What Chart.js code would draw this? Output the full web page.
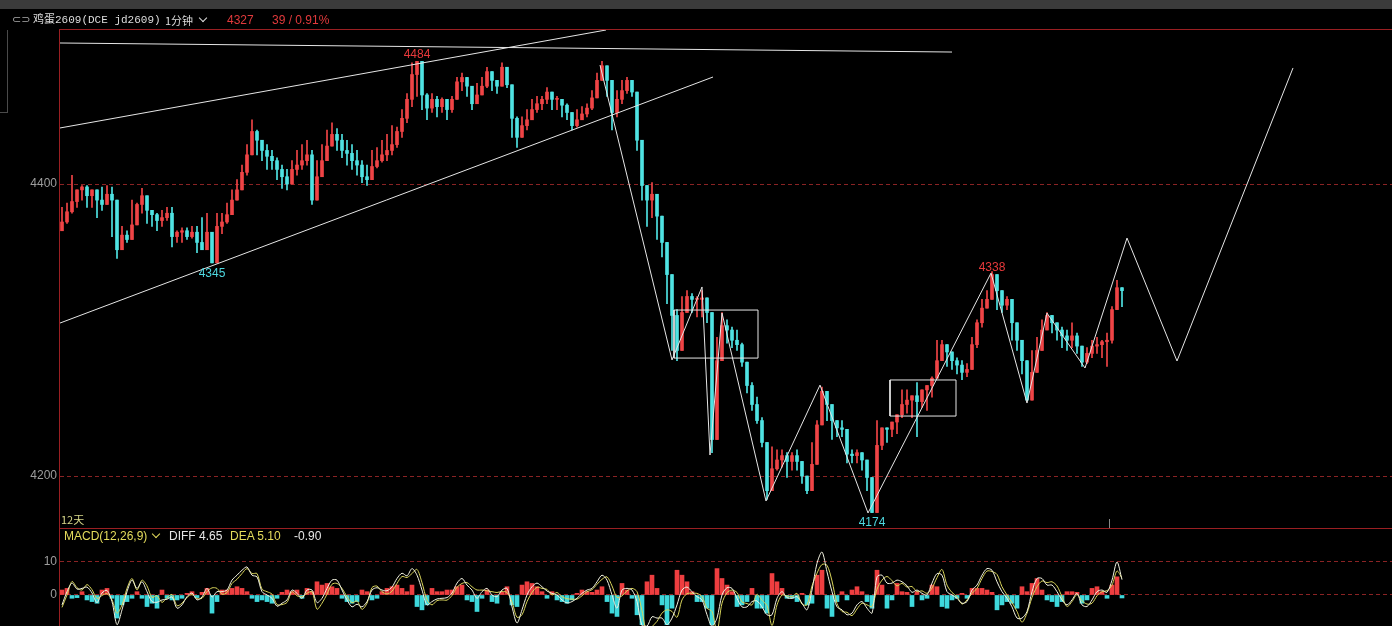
<!DOCTYPE html>
<html>
<head>
<meta charset="utf-8">
<script src="https://cdn.jsdelivr.net/npm/chart.js@4.4.1/dist/chart.umd.min.js"></script>
<style>
  body { margin: 0; background: #000; overflow: hidden; }
  #wrap { position: relative; width: 1392px; height: 626px; background: #000; font-family: "Liberation Sans", Arial, sans-serif; }
  canvas { position: absolute; left: 0; }
  .t { position: absolute; white-space: nowrap; font-size: 12px; line-height: 14px; }
  .ln { position: absolute; background: #9a1f22; }
  .chev { position: absolute; width: 5px; height: 5px; border-right: 1px solid; border-bottom: 1px solid; transform: rotate(45deg); }
</style>
</head>
<body>
<div id="wrap">
  <div style="position:absolute;left:0;top:0;width:1392px;height:9px;background:#3b3b3b"></div>
  <div style="position:absolute;left:0;top:30px;width:7px;height:82px;border-right:1px solid #4a4a4a;border-bottom:1px solid #4a4a4a"></div>
  <canvas id="priceChart" width="1392" height="528" style="top:0"></canvas>
  <canvas id="macdChart" width="1392" height="98" style="top:528px"></canvas>

  <!-- frame lines -->
  <div class="ln" style="left:59px;top:29px;width:1333px;height:1px"></div>
  <div class="ln" style="left:59px;top:528px;width:1333px;height:1px"></div>
  <div class="ln" style="left:59px;top:29px;width:1px;height:597px"></div>
  <div style="position:absolute;left:1109px;top:519px;width:1px;height:9px;background:#888"></div>

  <!-- header -->
  <div class="t" style="left:12px;top:13px;color:#aaa;font-family:'DejaVu Sans';font-size:11px">⊂⊃</div>
  <div class="t" style="left:33px;top:13px;color:#ddd;font-family:'Liberation Mono','Noto Sans CJK SC';font-size:11px">鸡蛋2609(DCE jd2609)</div>
  <div class="t" style="left:165px;top:13px;color:#ddd;font-family:'Noto Sans CJK SC';font-size:11px">1分钟</div>
  <span class="chev" style="left:200px;top:15px;color:#ddd"></span>
  <div class="t" style="left:227px;top:13px;color:#e23a3c">4327</div>
  <div class="t" style="left:272px;top:13px;color:#e23a3c">39 / 0.91%</div>

  <!-- macd header -->
  <div class="t" style="left:61px;top:512px;color:#d8d88a;font-family:'Noto Sans CJK SC';font-size:11px;line-height:14px">12天</div>
  <div class="t" style="left:64px;top:529px;color:#e4dc5c">MACD(12,26,9)</div>
  <span class="chev" style="left:153px;top:531px;color:#e4dc5c"></span>
  <div class="t" style="left:169px;top:529px;color:#e6e6e6">DIFF 4.65</div>
  <div class="t" style="left:230px;top:529px;color:#e4dc5c">DEA 5.10</div>
  <div class="t" style="left:294px;top:529px;color:#e6e6e6">-0.90</div>
</div>

<script>
// 1 minute bars, read every 5px of the picture
const closes = [
  4374, 4381, 4388, 4396, 4398, 4392, 4396, 4389, 4386, 4393, 4389, 4355, 4365, 4362, 4372, 4386,
  4392, 4382, 4379, 4375, 4377, 4380, 4364, 4367, 4368, 4364, 4367, 4360, 4355, 4367, 4346, 4371,
  4374, 4379, 4389, 4396, 4408, 4420, 4436, 4430, 4423, 4419, 4416, 4410, 4405, 4400, 4410, 4413,
  4416, 4420, 4389, 4405, 4416, 4426, 4434, 4430, 4423, 4421, 4416, 4413, 4405, 4403, 4412, 4416,
  4420, 4423, 4427, 4436, 4445, 4458, 4475, 4484, 4461, 4452, 4458, 4453, 4458, 4451, 4458, 4470,
  4473, 4467, 4455, 4461, 4467, 4477, 4471, 4467, 4480, 4468, 4445, 4432, 4440, 4444, 4451, 4455,
  4458, 4463, 4458, 4458, 4454, 4449, 4440, 4444, 4448, 4452, 4459, 4471, 4481, 4471, 4449, 4458,
  4464, 4471, 4463, 4430, 4399, 4389, 4393, 4378, 4360, 4338, 4310, 4286, 4312, 4323, 4321, 4321,
  4322, 4312, 4225, 4279, 4303, 4300, 4293, 4290, 4278, 4262, 4249, 4238, 4223, 4190, 4205, 4211,
  4214, 4210, 4214, 4210, 4200, 4190, 4208, 4235, 4258, 4249, 4238, 4233, 4232, 4215, 4214, 4216,
  4211, 4199, 4175, 4221, 4233, 4232, 4237, 4242, 4249, 4252, 4255, 4251, 4259, 4262, 4267, 4279,
  4290, 4285, 4279, 4276, 4271, 4273, 4290, 4305, 4315, 4321, 4338, 4327, 4317, 4321, 4305, 4293,
  4279, 4252, 4271, 4286, 4300, 4310, 4305, 4300, 4296, 4293, 4296, 4289, 4278, 4284, 4289, 4290,
  4292, 4293, 4314, 4329, 4327
];
const highs = [
  4384, 4387, 4406, 4396, 4399, 4399, 4396, 4391, 4398, 4399, 4398, 4371, 4371, 4368, 4389, 4387,
  4397, 4387, 4382, 4380, 4382, 4384, 4384, 4368, 4370, 4370, 4371, 4371, 4377, 4380, 4366, 4380,
  4380, 4387, 4396, 4403, 4413, 4427, 4444, 4437, 4430, 4427, 4423, 4418, 4413, 4410, 4416, 4423,
  4427, 4430, 4423, 4416, 4427, 4437, 4442, 4438, 4434, 4430, 4427, 4423, 4416, 4413, 4423, 4425,
  4430, 4434, 4440, 4439, 4451, 4462, 4483, 4484, 4471, 4462, 4462, 4460, 4459, 4455, 4460, 4473,
  4476, 4473, 4464, 4469, 4473, 4480, 4473, 4471, 4483, 4480, 4462, 4446, 4446, 4451, 4458, 4460,
  4460, 4466, 4462, 4460, 4458, 4455, 4449, 4451, 4453, 4455, 4464, 4476, 4484, 4476, 4460, 4464,
  4471, 4473, 4471, 4460, 4423, 4398, 4401, 4382, 4377, 4336, 4325, 4314, 4323, 4327, 4325, 4323,
  4327, 4321, 4273, 4295, 4312, 4307, 4302, 4300, 4291, 4273, 4264, 4254, 4240, 4220, 4220, 4218,
  4218, 4216, 4216, 4218, 4206, 4199, 4223, 4238, 4261, 4252, 4243, 4238, 4238, 4220, 4218, 4218,
  4216, 4211, 4199, 4238, 4233, 4233, 4236, 4240, 4259, 4259, 4254, 4264, 4259, 4261, 4268, 4293,
  4293, 4286, 4284, 4281, 4279, 4277, 4295, 4307, 4321, 4327, 4340, 4334, 4323, 4323, 4309, 4302,
  4286, 4273, 4286, 4295, 4307, 4312, 4309, 4305, 4302, 4300, 4305, 4298, 4288, 4288, 4293, 4295,
  4293, 4298, 4316, 4334, 4327
];
const lows = [
  4368, 4373, 4380, 4384, 4389, 4384, 4384, 4377, 4382, 4391, 4364, 4349, 4357, 4360, 4368, 4375,
  4380, 4373, 4371, 4368, 4371, 4375, 4357, 4360, 4360, 4362, 4363, 4353, 4355, 4364, 4346, 4364,
  4366, 4373, 4384, 4391, 4401, 4406, 4423, 4420, 4416, 4410, 4410, 4403, 4397, 4396, 4403, 4406,
  4410, 4413, 4386, 4392, 4410, 4420, 4427, 4423, 4418, 4413, 4410, 4406, 4401, 4399, 4406, 4411,
  4415, 4416, 4420, 4425, 4432, 4442, 4453, 4460, 4451, 4444, 4449, 4446, 4449, 4444, 4449, 4460,
  4464, 4460, 4451, 4460, 4464, 4466, 4464, 4462, 4469, 4466, 4432, 4425, 4432, 4437, 4444, 4449,
  4451, 4455, 4451, 4451, 4446, 4444, 4437, 4439, 4444, 4446, 4451, 4460, 4471, 4460, 4437, 4446,
  4455, 4462, 4460, 4423, 4389, 4371, 4377, 4362, 4350, 4318, 4286, 4279, 4305, 4312, 4312, 4309,
  4309, 4305, 4216, 4264, 4291, 4291, 4288, 4286, 4275, 4257, 4245, 4236, 4220, 4184, 4197, 4204,
  4206, 4199, 4204, 4204, 4195, 4188, 4197, 4216, 4238, 4238, 4225, 4227, 4227, 4209, 4209, 4209,
  4204, 4190, 4175, 4213, 4218, 4223, 4227, 4229, 4240, 4243, 4240, 4227, 4247, 4245, 4254, 4277,
  4279, 4275, 4273, 4270, 4266, 4268, 4281, 4288, 4302, 4316, 4323, 4314, 4312, 4314, 4293, 4286,
  4270, 4252, 4268, 4281, 4291, 4300, 4298, 4293, 4288, 4286, 4288, 4284, 4275, 4277, 4281, 4284,
  4281, 4275, 4291, 4318, 4316
];
const firstOpen = 4368;

const diffVals = [
  -3, 1, 3.6, 1.8, 2, 2.4, 0.6, -2.3, 0.6, 1.4, -2, -9, -4.5, 1, 4.5, 2,
  4, 1, -2, -2.2, -1.5, -1.3, -0.6, -4, -3, -0.5, 0.6, -1.5, -0.6, 2, -0.6, 1,
  1, 1.5, 4.5, 6, 7.5, 8.5, 6, 5.5, 1, 0, -1, -3.4, -2.5, -1.5, 1.5, 0.5,
  -1, 1.5, 1.5, -2.3, -1, 2, 4.5, 4.5, 1.5, -1.5, -3.6, -2.8, -3.6, -2, 1.5, 2.2,
  1.5, 1.3, 2.4, 5, 6.6, 5.8, 8, 6, 1.5, -3, -2, -1.2, -1, -0.8, 0.6, 3.6,
  5, 3, 1.5, -1, 1, 2, 0, -0.5, 1.5, 2, -3.6, -8.5, -4.5, 0, 2.5, 3.6,
  2.5, 1.2, 0.5, 0, -1.5, -2.4, -2, -1, 0.5, 1.5, 2, 4, 6, 4.5, 0, -4,
  1.5, 2, 1.5, -2, -9.3, -9.5, -6.6, -7, -7, -9, -7, -3, 1.5, 2.4, 1, -0.5,
  -1.5, -6, -9.5, -7, 0, 2.2, 2, -1, -3.6, -3.6, -2, -1.8, -3.6, -6, -6, -1,
  1, -0.8, -1, -0.5, -2.5, -4.5, 1.5, 9.6, 13, 7, 1, -3.6, -4.5, -6, -5.5, -3,
  -2, -4, -5.5, 5.5, 6, 3.6, 3.6, 4.5, 4, 2.8, 0.8, 1.5, 0.5, 0, 3.6, 6.5,
  6, 1, 0, -1, -2.5, -2, 1.5, 3, 6, 8, 7.5, 4, 1, -1, -3.6, -7,
  -7, -5, 1, 5, 5, 3, 3, 1, -1.5, -3, -1.5, 0.5, -3, -3.5, -1.5, 1,
  1.5, 0.8, 4.5, 10, 4.65
];
const histVals = [
  1.5, 2, -1, -0.8, 1, -1.5, -2, -2.5, 1.5, 2, -1, -7, -3, -2, -1, 1,
  -1, -3.5, -2.5, -4, 1.5, -1, -1.5, -1.5, -1, 0.5, 1, -0.8, 0.8, 2, -5.5, -2,
  1.5, 1.5, 2, 2.5, 2, 1, -1, -2, -1.5, -2, -2.5, -1, 0.8, 1.5, 1, 1.5,
  -1, 2, 1, 4, 3, 3.5, 2.5, 2, -1, -2, -2.5, -2, 1.5, 1, -1.5, -1,
  1, 2, 2.5, 3, 2, 1, 3, -3.5, -4.5, -3, 2, 1, 1, 1.5, 1.5, 2.5,
  3, -1.5, -2, -5, -1, 1.5, -2, -2.5, 0.8, 2.5, -3, -3.5, 3, 4, 3.5, 2.5,
  1, -1, 1, -1.5, -2, -2.5, -1.5, 0.5, 1.5, 1, 0.8, 1.5, 2.5, -2, -5.5, -6.5,
  3.5, 1.5, -1, -6, -9, 4, 6, 2, -3, -9, -4, 7.5, 6, 4, 1, -2,
  -2, -4, -9, 8, 5, 3, 1, -3.5, -3, -2, 2, -4, -4, -5.5, 6.5, 4,
  2, -1, -1, -2, 0.5, -3, -2.5, 6, 7.5, -4, -6.5, -2, 1, -1.5, 1.5, 2.5,
  1, -2, -4, 7.5, 3, -4, -1.5, 3.5, 1, 0.8, -3.5, 1, -1.5, -1, 3, 2.5,
  -3.5, -4, -1.5, -1, 0.5, -1, 2, 2, 2, 1.5, 0.8, -4.5, -3, -2, -2.5, -4,
  2.5, 1, 3.5, 5, 1.5, -1.5, -2, -3.5, -2, 1, 1, 0.8, -2.5, -1.5, 2, 2.5,
  1, -1, 3, 5.5, -0.9
];

const priceTicks = [4200, 4400];
const macdTicks = [0, 10];

// drawn lines, in bar index / price
const topLineU = [0, 178.4];
const topLineP = [4496.6, 4490.4];
const chanUpU = [0, 109.2];
const chanUpP = [4438.4, 4505.5];
const chanLowU = [0, 130.6];
const chanLowP = [4304.8, 4473.3];
const zigU = [108, 122.4, 128.4, 130, 132.4, 141.2, 152, 161.6, 186.2, 193.4, 197.4, 205, 213.4, 223.4, 246.6];
const zigP = [4481.5, 4279.5, 4329.5, 4214.4, 4311.6, 4182.9, 4262.3, 4174.7, 4339, 4250, 4311.6, 4274, 4363, 4278.8, 4479.5];
const box1 = [122.8, 139.6, 4280.8, 4313.7];
const box2 = [166, 179.2, 4241.1, 4265.8];

// high / low marks
const markU = [71.4, 30.4, 162.4, 186.4];
const markP = [4484, 4345, 4174, 4338];
const markText = ['4484', '4345', '4174', '4338'];
const markHigh = [true, false, false, true];

const UP = '#f04446';
const DOWN = '#4fe3e3';
const LINE = '#e6e6e6';
const GRID = '#8a2324';
const X_MAX = 266.4;

function pts(us, ps) {
  return us.map((u, i) => ({ x: u, y: ps[i] }));
}
function boxPts(b) {
  return [{x: b[0], y: b[2]}, {x: b[1], y: b[2]}, {x: b[1], y: b[3]}, {x: b[0], y: b[3]}, {x: b[0], y: b[2]}];
}
function lineSet(data) {
  return { type: 'line', data: data, borderColor: LINE, borderWidth: 1, pointRadius: 0, tension: 0, fill: false, order: 1 };
}

// Candles: body from open to close, wick from low to high
const opens = closes.map((c, i) => i === 0 ? firstOpen : closes[i - 1]);
const bodyData = closes.map((c, i) => ({ x: i + 0.4, y: [opens[i], c] }));
const wickData = closes.map((c, i) => ({
  x: i + 0.4,
  y: [Math.min(lows[i], opens[i], c), Math.max(highs[i], opens[i], c)]
}));
const candleColors = closes.map((c, i) => c >= opens[i] ? UP : DOWN);

const markPlugin = {
  id: 'marks',
  afterDatasetsDraw(chart) {
    const ctx = chart.ctx;
    const xs = chart.scales.x, ys = chart.scales.y;
    ctx.save();
    ctx.font = '12px "Liberation Sans", Arial, sans-serif';
    ctx.textAlign = 'center';
    markU.forEach((u, i) => {
      const px = xs.getPixelForValue(u);
      const py = ys.getPixelForValue(markP[i]);
      ctx.fillStyle = markHigh[i] ? '#e8393b' : '#4ed8e0';
      ctx.textBaseline = markHigh[i] ? 'bottom' : 'top';
      ctx.fillText(markText[i], px, markHigh[i] ? py - 1 : py + 3);
    });
    ctx.restore();
  }
};

function xAxis() {
  return { type: 'linear', min: 0, max: X_MAX, display: false, offset: false };
}

function yAxis(min, max, ticks) {
  return {
    min: min, max: max,
    afterFit(scale) {
      scale.width = 60;
      scale.paddingTop = 0;
      scale.paddingBottom = 0;
    },
    afterBuildTicks(scale) { scale.ticks = ticks.map(v => ({ value: v })); },
    grid: { color: GRID, drawTicks: false, lineWidth: 1 },
    border: { display: false, dash: [4, 3] },
    ticks: {
      color: '#9d9d9d', padding: 3,
      font: { size: 12, family: '"Liberation Sans", Arial, sans-serif' },
      callback: v => String(v)
    }
  };
}

new Chart(document.getElementById('priceChart').getContext('2d'), {
  type: 'bar',
  data: {
    datasets: [
      {
        type: 'bar', data: wickData, backgroundColor: candleColors,
        barThickness: 1, borderWidth: 0, grouped: false, order: 3
      },
      {
        type: 'bar', data: bodyData, backgroundColor: candleColors,
        barThickness: 3, minBarLength: 1, borderWidth: 0, grouped: false, order: 2
      },
      lineSet(pts(topLineU, topLineP)),
      lineSet(pts(chanUpU, chanUpP)),
      lineSet(pts(chanLowU, chanLowP)),
      lineSet(pts(zigU, zigP)),
      lineSet(boxPts(box1)),
      lineSet(boxPts(box2))
    ]
  },
  options: {
    responsive: false,
    animation: false,
    devicePixelRatio: 1,
    layout: { padding: { top: 30, bottom: 1, left: 0, right: 0 } },
    plugins: { legend: { display: false }, tooltip: { enabled: false } },
    scales: {
      x: xAxis(),
      y: yAxis(4165.1, 4505.5, priceTicks)
    }
  },
  plugins: [markPlugin]
});

// MACD panel
const deaVals = diffVals.map((d, i) => d - histVals[i] / 2);
const histData = histVals.map((h, i) => ({ x: i + 0.4, y: h }));

new Chart(document.getElementById('macdChart').getContext('2d'), {
  type: 'bar',
  data: {
    datasets: [
      {
        type: 'bar', data: histData,
        backgroundColor: histVals.map(h => h >= 0 ? '#ee3e40' : '#3ed8dc'),
        barThickness: 4, borderWidth: 0, grouped: false, order: 3
      },
      {
        type: 'line', data: deaVals.map((v, i) => ({ x: i + 0.4, y: v })),
        borderColor: '#d8d45a', borderWidth: 1, pointRadius: 0, tension: 0.3, order: 2
      },
      {
        type: 'line', data: diffVals.map((v, i) => ({ x: i + 0.4, y: v })),
        borderColor: '#f2f2e0', borderWidth: 1, pointRadius: 0, tension: 0.3, order: 1
      }
    ]
  },
  options: {
    responsive: false,
    animation: false,
    devicePixelRatio: 1,
    layout: { padding: 0 },
    plugins: { legend: { display: false }, tooltip: { enabled: false } },
    scales: {
      x: xAxis(),
      y: yAxis(-9.4, 20.3, macdTicks)
    }
  }
});
</script>
</body>
</html>
